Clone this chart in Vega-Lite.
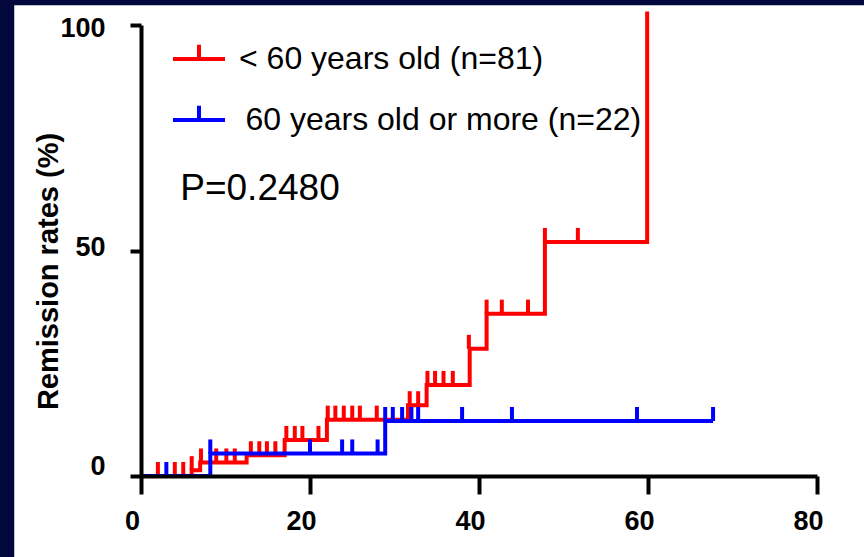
{
  "$schema": "https://vega.github.io/schema/vega-lite/v6.json",
  "width": 676,
  "height": 451,
  "autosize": {"type": "none"},
  "padding": {"left": 141, "top": 25, "right": 47, "bottom": 81},
  "background": "#03083c",
  "config": {"view": {"stroke": null}, "font": "Liberation Sans"},
  "datasets": {
    "km": [
      {"group": "lt60", "kind": "curve", "t": 0, "v": 0},
      {"group": "lt60", "kind": "curve", "t": 6.0, "v": 1.3},
      {"group": "lt60", "kind": "curve", "t": 7.0, "v": 3.0},
      {"group": "lt60", "kind": "curve", "t": 12.5, "v": 4.6},
      {"group": "lt60", "kind": "curve", "t": 17.0, "v": 8.0},
      {"group": "lt60", "kind": "curve", "t": 22.0, "v": 12.5},
      {"group": "lt60", "kind": "curve", "t": 31.6, "v": 15.7},
      {"group": "lt60", "kind": "curve", "t": 33.8, "v": 20.2},
      {"group": "lt60", "kind": "curve", "t": 38.9, "v": 28.2},
      {"group": "lt60", "kind": "curve", "t": 40.9, "v": 36.0},
      {"group": "lt60", "kind": "curve", "t": 47.8, "v": 51.9},
      {"group": "lt60", "kind": "curve", "t": 59.9, "v": 103},
      {"group": "ge60", "kind": "curve", "t": 0, "v": 0},
      {"group": "ge60", "kind": "curve", "t": 8.2, "v": 5.0},
      {"group": "ge60", "kind": "curve", "t": 28.9, "v": 12.2},
      {"group": "ge60", "kind": "curve", "t": 67.7, "v": 12.2},
      {"group": "lt60", "kind": "censor", "t": 2.0, "v": 0},
      {"group": "lt60", "kind": "censor", "t": 4.0, "v": 0},
      {"group": "lt60", "kind": "censor", "t": 5.0, "v": 0},
      {"group": "lt60", "kind": "censor", "t": 6.0, "v": 1.3},
      {"group": "lt60", "kind": "censor", "t": 7.1, "v": 3.0},
      {"group": "lt60", "kind": "censor", "t": 8.9, "v": 3.0},
      {"group": "lt60", "kind": "censor", "t": 10.1, "v": 3.0},
      {"group": "lt60", "kind": "censor", "t": 11.1, "v": 3.0},
      {"group": "lt60", "kind": "censor", "t": 13.0, "v": 4.6},
      {"group": "lt60", "kind": "censor", "t": 14.0, "v": 4.6},
      {"group": "lt60", "kind": "censor", "t": 14.9, "v": 4.6},
      {"group": "lt60", "kind": "censor", "t": 15.9, "v": 4.6},
      {"group": "lt60", "kind": "censor", "t": 17.2, "v": 8.0},
      {"group": "lt60", "kind": "censor", "t": 18.2, "v": 8.0},
      {"group": "lt60", "kind": "censor", "t": 19.1, "v": 8.0},
      {"group": "lt60", "kind": "censor", "t": 21.0, "v": 8.0},
      {"group": "lt60", "kind": "censor", "t": 22.1, "v": 12.5},
      {"group": "lt60", "kind": "censor", "t": 23.0, "v": 12.5},
      {"group": "lt60", "kind": "censor", "t": 24.0, "v": 12.5},
      {"group": "lt60", "kind": "censor", "t": 25.0, "v": 12.5},
      {"group": "lt60", "kind": "censor", "t": 25.9, "v": 12.5},
      {"group": "lt60", "kind": "censor", "t": 27.9, "v": 12.5},
      {"group": "lt60", "kind": "censor", "t": 31.8, "v": 15.7},
      {"group": "lt60", "kind": "censor", "t": 32.8, "v": 15.7},
      {"group": "lt60", "kind": "censor", "t": 33.9, "v": 20.2},
      {"group": "lt60", "kind": "censor", "t": 34.8, "v": 20.2},
      {"group": "lt60", "kind": "censor", "t": 35.8, "v": 20.2},
      {"group": "lt60", "kind": "censor", "t": 36.9, "v": 20.2},
      {"group": "lt60", "kind": "censor", "t": 38.8, "v": 28.2},
      {"group": "lt60", "kind": "censor", "t": 40.9, "v": 36.0},
      {"group": "lt60", "kind": "censor", "t": 42.7, "v": 36.0},
      {"group": "lt60", "kind": "censor", "t": 45.8, "v": 36.0},
      {"group": "lt60", "kind": "censor", "t": 47.8, "v": 51.9},
      {"group": "lt60", "kind": "censor", "t": 51.7, "v": 51.9},
      {"group": "ge60", "kind": "censor", "t": 3.0, "v": 0},
      {"group": "ge60", "kind": "censor", "t": 8.2, "v": 5.0},
      {"group": "ge60", "kind": "censor", "t": 20.0, "v": 5.0},
      {"group": "ge60", "kind": "censor", "t": 23.8, "v": 5.0},
      {"group": "ge60", "kind": "censor", "t": 25.0, "v": 5.0},
      {"group": "ge60", "kind": "censor", "t": 28.0, "v": 5.0},
      {"group": "ge60", "kind": "censor", "t": 28.9, "v": 12.2},
      {"group": "ge60", "kind": "censor", "t": 29.8, "v": 12.2},
      {"group": "ge60", "kind": "censor", "t": 30.9, "v": 12.2},
      {"group": "ge60", "kind": "censor", "t": 32.0, "v": 12.2},
      {"group": "ge60", "kind": "censor", "t": 32.8, "v": 12.2},
      {"group": "ge60", "kind": "censor", "t": 38.0, "v": 12.2},
      {"group": "ge60", "kind": "censor", "t": 43.9, "v": 12.2},
      {"group": "ge60", "kind": "censor", "t": 58.7, "v": 12.2},
      {"group": "ge60", "kind": "censor", "t": 67.7, "v": 12.2}
    ],
    "panel": [{"panel": "white"}]
  },
  "layer": [
    {
      "data": {"name": "panel"},
      "mark": {"type": "rect", "fill": "white", "clip": false},
      "encoding": {
        "x": {"datum": -15, "type": "quantitative"},
        "x2": {"datum": 86},
        "y": {"datum": 104.4, "type": "quantitative"},
        "y2": {"datum": -20}
      }
    },
    {
      "data": {"name": "km"},
      "transform": [{"filter": "datum.kind === 'curve' && datum.group === 'lt60'"}],
      "mark": {"type": "line", "interpolate": "step-after", "strokeWidth": 4, "clip": false},
      "encoding": {
        "x": {"field": "t", "type": "quantitative"},
        "y": {"field": "v", "type": "quantitative"},
        "color": {"field": "group", "type": "nominal"}
      }
    },
    {
      "data": {"name": "km"},
      "transform": [{"filter": "datum.kind === 'censor' && datum.group === 'lt60'"}],
      "mark": {"type": "tick", "orient": "vertical", "thickness": 4, "opacity": 1, "yOffset": -7, "clip": false},
      "encoding": {
        "x": {"field": "t", "type": "quantitative"},
        "y": {"field": "v", "type": "quantitative"},
        "size": {"value": 14},
        "color": {"field": "group", "type": "nominal", "legend": null}
      }
    },
    {
      "data": {"name": "km"},
      "transform": [{"filter": "datum.kind === 'curve' && datum.group === 'ge60'"}],
      "mark": {"type": "line", "interpolate": "step-after", "strokeWidth": 4, "clip": false},
      "encoding": {
        "x": {"field": "t", "type": "quantitative"},
        "y": {"field": "v", "type": "quantitative"},
        "color": {"field": "group", "type": "nominal"}
      }
    },
    {
      "data": {"name": "km"},
      "transform": [{"filter": "datum.kind === 'censor' && datum.group === 'ge60'"}],
      "mark": {"type": "tick", "orient": "vertical", "thickness": 4, "opacity": 1, "yOffset": -7, "clip": false},
      "encoding": {
        "x": {"field": "t", "type": "quantitative"},
        "y": {"field": "v", "type": "quantitative"},
        "size": {"value": 14},
        "color": {"field": "group", "type": "nominal", "legend": null}
      }
    }
  ],
  "resolve": {"legend": {"color": "shared"}},
  "encoding": {
    "x": {
      "type": "quantitative",
      "scale": {"domain": [0, 80], "nice": false},
      "axis": {
        "zindex": 1,
        "values": [0, 20, 40, 60, 80],
        "title": null,
        "grid": false,
        "domainColor": "black",
        "domainWidth": 4,
        "tickColor": "black",
        "tickWidth": 4,
        "tickSize": 18,
        "labelColor": "black",
        "labelFont": "Liberation Sans",
        "labelFontWeight": "bold",
        "labelFontSize": 27,
        "labelPadding": 14,
        "labelFlush": false,
        "labelOffset": -9
      }
    },
    "y": {
      "type": "quantitative",
      "scale": {"domain": [0, 100], "nice": false},
      "axis": {
        "zindex": 1,
        "values": [0, 50, 100],
        "title": "Remission rates (%)",
        "grid": false,
        "domainColor": "black",
        "domainWidth": 4,
        "tickColor": "black",
        "tickWidth": 4,
        "tickSize": 11,
        "labelColor": "black",
        "labelFont": "Liberation Sans",
        "labelFontWeight": "bold",
        "labelFontSize": 27,
        "labelPadding": 25,
        "labelFlush": false,
        "labelOffset": {"condition": [{"test": "datum.value === 0", "value": -10}, {"test": "datum.value === 50", "value": -3}], "value": 3},
        "titleColor": "black",
        "titleFont": "Liberation Sans",
        "titleFontWeight": "bold",
        "titleFontSize": 29,
        "titleX": -93,
        "titleY": 246,
        "titleAngle": -90,
        "titleAlign": "center",
        "titleBaseline": "middle"
      }
    },
    "color": {
      "field": "group",
      "type": "nominal",
      "scale": {"domain": ["lt60", "ge60"], "range": ["#ff0000", "#0000ff"]},
      "legend": {
        "zindex": 1,
        "orient": "none",
        "legendX": 30,
        "legendY": 6,
        "padding": 0,
        "title": "\u200b\u2005P=0.2480",
        "titleOrient": "bottom",
        "titleAnchor": "start",
        "titleFont": "Liberation Sans",
        "titleFontSize": 37,
        "titleFontWeight": "normal",
        "titleColor": "black",
        "titlePadding": 35,
        "titleLimit": 400,
        "labelExpr": "datum.value === 'lt60' ? '< 60 years old (n=81)' : '\u200b\u200960 years old or more (n=22)'",
        "labelFont": "Liberation Sans",
        "labelFontSize": 32,
        "labelColor": "black",
        "labelOffset": 12,
        "labelLimit": 600,
        "symbolType": "M-1,0L1,0M0,0L0,-0.55",
        "symbolSize": 2704,
        "symbolStrokeWidth": 4,
        "rowPadding": 17
      }
    }
  }
}
